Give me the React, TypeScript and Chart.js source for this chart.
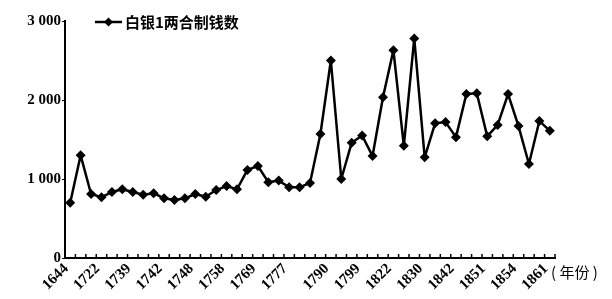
import React, { useEffect, useRef } from 'react';
import { Chart, registerables } from 'chart.js';

Chart.register(...registerables);

const values = [
  700, 1300, 810, 770, 835, 870, 835, 800, 820, 755, 735, 755,
  810, 775, 860, 910, 870, 1115, 1165, 960, 980, 895, 895, 950,
  1570, 2500, 1000, 1460, 1550, 1290, 2035, 2630, 1420, 2780, 1275,
  1705, 1720, 1530, 2075, 2085, 1540, 1685, 2075, 1670, 1190, 1735, 1610,
];

const tickLabels = [
  '1644', '1722', '1739', '1742', '1748', '1758', '1769', '1777',
  '1790', '1799', '1822', '1830', '1842', '1851', '1854', '1861',
];

const yMin = 0;
const yMax = 3000;
const yStep = 1000;
const seriesName = '白银1两合制钱数';
const xUnit = '( 年份 )';

const lastIndex = values.length - 1;
const categories = values.map((_, i) => {
  const k = tickLabels.findIndex(
    (_, j) => Math.round((j * lastIndex) / (tickLabels.length - 1)) === i
  );
  return k >= 0 ? tickLabels[k] : '';
});

const decorPlugin = {
  id: 'decor',
  afterDraw(chart: any) {
    const ctx = chart.ctx as CanvasRenderingContext2D;
    const x = chart.scales.x;
    const ca = chart.chartArea;
    ctx.save();
    // inward x ticks at category boundaries
    ctx.strokeStyle = '#000';
    ctx.lineWidth = 1.5;
    const n = values.length;
    const w = (x.right - x.left) / n;
    for (let i = 1; i <= n; i++) {
      const px = x.left + i * w;
      ctx.beginPath();
      ctx.moveTo(px, ca.bottom);
      ctx.lineTo(px, ca.bottom - 4);
      ctx.stroke();
    }
    // legend
    const ly = ca.top + 1;
    const lx = ca.left + 30;
    ctx.lineWidth = 2.5;
    ctx.beginPath();
    ctx.moveTo(lx, ly);
    ctx.lineTo(lx + 27, ly);
    ctx.stroke();
    const cx = lx + 13.5;
    const r = 4.5;
    ctx.fillStyle = '#000';
    ctx.beginPath();
    ctx.moveTo(cx, ly - r);
    ctx.lineTo(cx + r, ly);
    ctx.lineTo(cx, ly + r);
    ctx.lineTo(cx - r, ly);
    ctx.closePath();
    ctx.fill();
    ctx.font = 'bold 15px "Noto Sans CJK SC"';
    ctx.textBaseline = 'middle';
    ctx.textAlign = 'left';
    ctx.fillText(seriesName, lx + 30, ly);
    // x unit
    ctx.font = '15px "Noto Sans CJK SC"';
    ctx.fillText(xUnit, ca.right - 4, ca.bottom + 14);
    ctx.restore();
  },
};

export default function App() {
  const ref = useRef<HTMLCanvasElement>(null);
  useEffect(() => {
    document.body.style.margin = '0';
    const chart = new Chart(ref.current as HTMLCanvasElement, {
      type: 'line',
      data: {
        labels: categories,
        datasets: [
          {
            label: seriesName,
            data: values,
            borderColor: '#000',
            backgroundColor: '#000',
            borderWidth: 2.5,
            borderJoinStyle: 'round',
            pointStyle: 'rectRot',
            pointRadius: 5,
            pointBackgroundColor: '#000',
            pointBorderWidth: 0,
            tension: 0,
          },
        ],
      },
      options: {
        responsive: false,
        animation: false,
        layout: { padding: { top: 21, right: 57, left: 0, bottom: 0 } },
        plugins: {
          legend: { display: false },
          tooltip: { enabled: false },
        },
        scales: {
          x: {
            type: 'category',
            offset: true,
            grid: { display: true, drawOnChartArea: false, drawTicks: false },
            border: { color: '#000', width: 2 },
            ticks: {
              autoSkip: false,
              minRotation: 45,
              maxRotation: 45,
              padding: 2,
              labelOffset: -4,
              color: '#000',
              font: { family: '"Liberation Serif"', size: 15, weight: 'bold' },
            },
            afterFit: (s: any) => {
              s.height = 41;
            },
          },
          y: {
            min: yMin,
            max: yMax,
            grid: { display: true, drawOnChartArea: false, drawTicks: true, tickLength: 3, color: '#000' },
            border: { color: '#000', width: 2 },
            ticks: {
              stepSize: yStep,
              padding: 1,
              color: '#000',
              font: { family: '"Liberation Serif"', size: 15, weight: 'bold' },
              callback: (v: any) => String(v).replace(/\B(?=(\d{3})+(?!\d))/g, ' '),
            },
            afterFit: (s: any) => {
              s.width = 65;
            },
          },
        },
      },
      plugins: [decorPlugin],
    });
    return () => chart.destroy();
  }, []);
  return <canvas ref={ref} width={612} height={299} style={{ display: 'block' }} />;
}
